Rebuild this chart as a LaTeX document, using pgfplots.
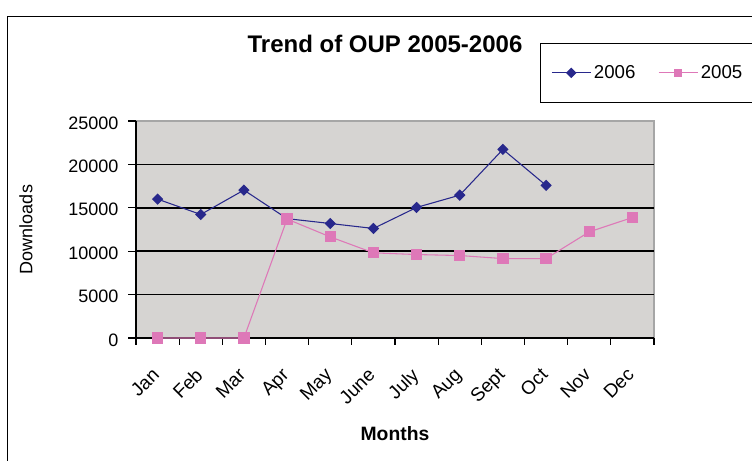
\documentclass[border=0pt]{standalone}
\usepackage{fontspec}
\setmainfont{Liberation Sans}
\usepackage{pgfplots}
\pgfplotsset{compat=1.18}

\definecolor{ser06}{RGB}{40,40,140}
\definecolor{ser05}{RGB}{222,120,184}
\definecolor{plotbg}{RGB}{214,212,210}

\begin{document}
\begin{tikzpicture}
% page = 752 x 460 px, 1 px = 0.75pt
\useasboundingbox (0pt,0pt) rectangle (564pt,345pt);
% outer chart frame (cut off on the right and bottom, as in the source)
\draw[line width=0.8pt] (5.6pt,-5pt) -- (5.6pt,332.6pt) -- (580pt,332.6pt);
\begin{axis}[
    at={(102pt,91.5pt)}, anchor=south west,
    scale only axis,
    width=388.5pt, height=162.75pt,
    xmin=0, xmax=12, ymin=0, ymax=25000,
    clip=false,
    axis x line*=bottom, axis y line*=left,
    axis line style={line width=0.9pt},
    axis background/.style={fill=plotbg, draw=gray!70, line width=1pt},
    tick align=outside,
    tick style={black, line width=0.9pt},
    major tick length=6pt,
    minor tick length=5pt,
    xtick={0.5,1.5,...,11.5},
    xticklabels={Jan,Feb,Mar,Apr,May,June,July,Aug,Sept,Oct,Nov,Dec},
    minor xtick={0,1,...,12},
    major x tick style={draw=none},
    ytick={0,5000,...,25000},
    scaled y ticks=false,
    extra y ticks={5000,10000,15000,20000},
    extra y tick labels={},
    extra y tick style={grid=major, major tick length=0pt,
        major grid style={black, line width=1.3pt}},
    /pgf/number format/1000 sep={},
    /pgf/number format/assume math mode=true,
    tick label style={font=\fontsize{13.5}{16}\selectfont},
    xticklabel style={xshift=-4.9pt, yshift=-15.4pt, rotate=45, anchor=north east,
        inner sep=0pt, font=\fontsize{14.2}{16}\selectfont},
    yticklabel style={anchor=east, inner sep=0pt, xshift=-7pt, yshift=-1.5pt},
    title={Trend of OUP 2005-2006},
    title style={at={(axis description cs:0.4807,1.3175)}, anchor=center,
        font=\bfseries\fontsize{18}{21}\selectfont},
    xlabel={Months},
    xlabel style={at={(axis description cs:0.5,-0.442)}, anchor=center,
        font=\bfseries\fontsize{14.5}{17}\selectfont},
    ylabel={Downloads},
    ylabel style={at={(axis description cs:-0.2124,0.5)}, anchor=center,
        font=\fontsize{13.5}{16}\selectfont},
    legend columns=2,
    legend style={at={(axis description cs:0.78,1.3594)}, anchor=north west,
        draw=black, line width=0.8pt, fill=white,
        inner xsep=8pt, inner ysep=14.3pt,
        font=\fontsize{14}{16}\selectfont,
        /tikz/every even column/.append style={column sep=15pt}},
    legend image code/.code={\draw[mark repeat=2,mark phase=2,#1]
        plot coordinates {(0pt,0pt)(14.6pt,0pt)(29.2pt,0pt)};},
    legend image post style={mark size=2.4pt},
]
\addplot[color=ser06, line width=0.8pt, mark=square*, mark size=2.6pt,
    mark options={rotate=45, fill=ser06}] coordinates {
    (0.5,16000) (1.5,14230) (2.5,17040) (3.5,13750) (4.5,13190)
    (5.5,12620) (6.5,15040) (7.5,16460) (8.5,21730) (9.5,17580)
};
\addlegendentry{2006}
\addplot[color=ser05, line width=0.8pt, mark=square*, mark size=3.8pt,
    mark options={fill=ser05}] coordinates {
    (0.5,0) (1.5,0) (2.5,0) (3.5,13700) (4.5,11650) (5.5,9810)
    (6.5,9615) (7.5,9500) (8.5,9150) (9.5,9150) (10.5,12230) (11.5,13880)
};
\addlegendentry{2005}
\end{axis}
\end{tikzpicture}
\end{document}
